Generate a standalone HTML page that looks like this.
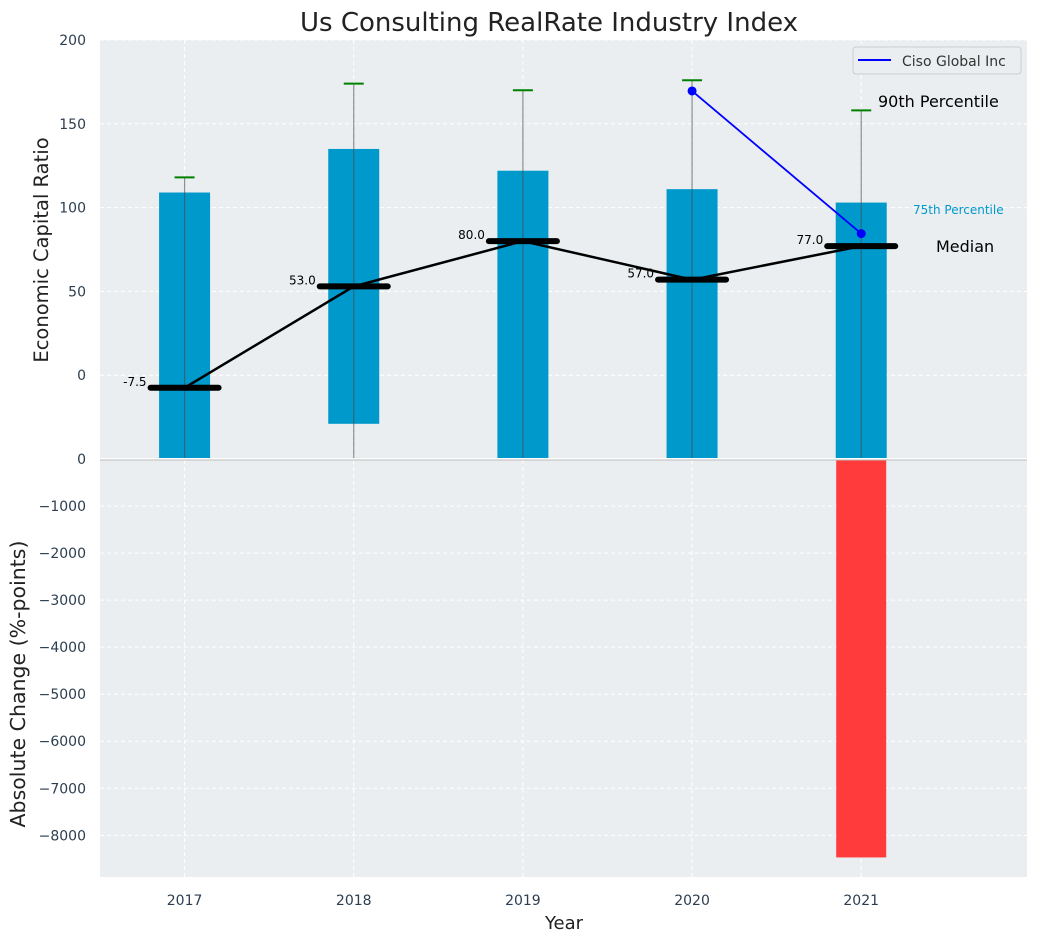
<!DOCTYPE html>
<html><head><meta charset="utf-8"><style>
body{margin:0;background:#fff;font-family:"Liberation Sans","DejaVu Sans",sans-serif}
svg text{font-family:"DejaVu Sans","Liberation Sans",sans-serif}
</style></head><body>
<svg id="c" width="1039" height="942" viewBox="0 0 1039 942" xmlns="http://www.w3.org/2000/svg"></svg>
<script>
const years=["2017","2018","2019","2020","2021"];
const barLow=[-50,-29,-50,-50,-50];
const barHigh=[109,135,122,111,103];
const p90=[118,174,170,176,158];
const medians=[-7.5,53.0,80.0,57.0,77.0];
const cisoYears=[3,4];
const cisoVals=[169.6,84.5];
const changeVals=[0,0,0,0,-8470];
const topTicks=[0,50,100,150,200];
const botTicks=[0,-1000,-2000,-3000,-4000,-5000,-6000,-7000,-8000];

const NS="http://www.w3.org/2000/svg",svg=document.getElementById('c');
function el(t,a,p){const e=document.createElementNS(NS,t);for(const k in a)e.setAttribute(k,a[k]);(p||svg).appendChild(e);return e;}
const L=100,R=1027,T1=40,B1=459,B2=877;
const x=i=>L+(i+0.5)/5.48*(R-L);
const y1=v=>T1+(200-v)/250*(B1-T1);
const y2=v=>B1+(-v)/8886*(B2-B1);

el('rect',{x:L,y:T1,width:R-L,height:B2-T1,fill:'#eaeef0'});
years.forEach((yr,i)=>{el('line',{x1:x(i),x2:x(i),y1:T1,y2:B2,stroke:'#fff','stroke-dasharray':'4,3','stroke-width':1});});
topTicks.forEach(v=>{el('line',{x1:L,x2:R,y1:y1(v),y2:y1(v),stroke:'#fff','stroke-dasharray':'4,3'});
 const t=el('text',{x:L-14,y:y1(v)+5,'text-anchor':'end','font-size':14,fill:'#2c3e50'});t.textContent=v;
 
 });
botTicks.forEach(v=>{el('line',{x1:L,x2:R,y1:y2(v),y2:y2(v),stroke:'#fff','stroke-dasharray':'4,3'});
 if(v===0)return;
 const t=el('text',{x:L-14,y:y2(v)+5,'text-anchor':'end','font-size':14,fill:'#2c3e50'});t.textContent=String(v).replace('-','\u2212');
 
 });
{const t=el('text',{x:L-14,y:B1+5,'text-anchor':'end','font-size':14,fill:'#2c3e50'});t.textContent='0';}
years.forEach((yr,i)=>{
 const b=el('rect',{x:x(i)-25.5,y:y1(barHigh[i]),width:51,height:y1(barLow[i])-y1(barHigh[i]),fill:'#0099cc'});
 
 
 el('line',{x1:x(i),x2:x(i),y1:Math.min(y1(-50),B1-1),y2:y1(p90[i]),stroke:'#4a4a4a','stroke-opacity':0.6,'stroke-width':1.2});
 const c=el('line',{x1:x(i)-10,x2:x(i)+10,y1:y1(p90[i]),y2:y1(p90[i]),stroke:'green','stroke-width':2});
 
 
 if(changeVals[i]<0){const r=el('rect',{x:x(i)-25,y:B1,width:50,height:y2(changeVals[i])-B1,fill:'#ff3b3b'});
  
  }
});
el('line',{x1:L,x2:R,y1:B1,y2:B1,stroke:'#fff','stroke-width':2});
el('line',{x1:L,x2:R,y1:B1+1,y2:B1+1,stroke:'#bbb','stroke-width':1});
el('polyline',{points:medians.map((m,i)=>x(i)+','+y1(m)).join(' '),fill:'none',stroke:'#000','stroke-width':2.5});
medians.forEach((m,i)=>{
 const l=el('line',{x1:x(i)-34,x2:x(i)+34,y1:y1(m),y2:y1(m),stroke:'#000','stroke-width':6,'stroke-linecap':'round'});
 
 
 const t=el('text',{x:x(i)-38,y:y1(m)-2,'text-anchor':'end','font-size':12,fill:'#000'});t.textContent=m.toFixed(1);
});
el('polyline',{points:cisoYears.map((c,k)=>x(c)+','+y1(cisoVals[k])).join(' '),fill:'none',stroke:'blue','stroke-width':1.8});
cisoYears.forEach((c,k)=>{const d=el('circle',{cx:x(c),cy:y1(cisoVals[k]),r:4.5,fill:'blue'});
 
 });
[['90th Percentile',878,107,16,'#000'],['75th Percentile',913,214,12,'#0099cc'],['Median',936,252,16,'#000']].forEach(a=>{
 const t=el('text',{x:a[1],y:a[2],'font-size':a[3],fill:a[4]});t.textContent=a[0];});
const lg=el('g',{});
el('rect',{x:853,y:47,width:168,height:27,rx:3,fill:'#eaeef0',stroke:'#ccc'},lg);
el('line',{x1:858,x2:891,y1:60,y2:60,stroke:'blue','stroke-width':2},lg);
{const t=el('text',{x:902,y:66,'font-size':14,fill:'#333'},lg);t.textContent='Ciso Global Inc';}
years.forEach((yr,i)=>{const t=el('text',{x:x(i),y:905,'text-anchor':'middle','font-size':14,fill:'#2c3e50'});t.textContent=yr;
 
 });
{const t=el('text',{x:549,y:31,'text-anchor':'middle','font-size':26,fill:'#222'});t.textContent='Us Consulting RealRate Industry Index';}
{const t=el('text',{x:564,y:929,'text-anchor':'middle','font-size':18,fill:'#222'});t.textContent='Year';}
{const t=el('text',{transform:'translate(48,250) rotate(-90)','text-anchor':'middle','font-size':19.5,fill:'#222'});t.textContent='Economic Capital Ratio';}
{const t=el('text',{transform:'translate(25,684) rotate(-90)','text-anchor':'middle','font-size':20.5,fill:'#222'});t.textContent='Absolute Change (%-points)';}
</script>
</body></html>
